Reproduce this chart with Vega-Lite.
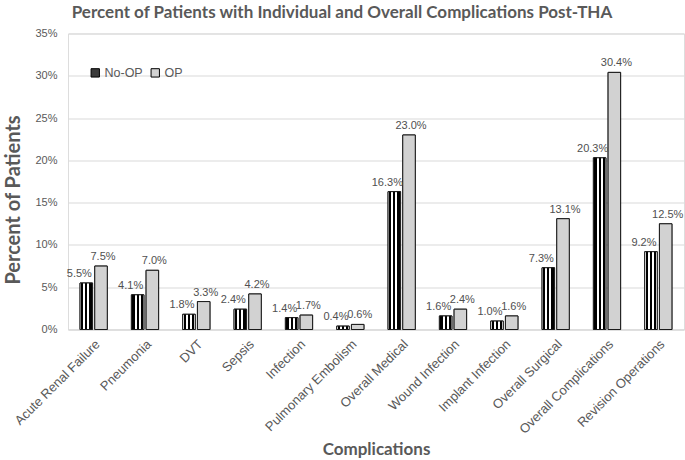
{
  "$schema": "https://vega.github.io/schema/vega-lite/v6.json",
  "width": 616,
  "height": 296,
  "autosize": {"type": "none"},
  "padding": {"left": 68, "top": 33.5, "right": 1, "bottom": 130.5},
  "background": "white",
  "title": {
    "text": "Percent of Patients with Individual and Overall Complications Post-THA",
    "font": "Lato",
    "fontSize": 17,
    "fontWeight": "bold",
    "color": "#595959",
    "anchor": "middle",
    "dx": -34,
    "offset": 6
  },
  "data": {
    "values": [
      {"complication": "Acute Renal Failure", "group": "No-OP", "value": 0.055},
      {"complication": "Acute Renal Failure", "group": "OP", "value": 0.075},
      {"complication": "Pneumonia", "group": "No-OP", "value": 0.041},
      {"complication": "Pneumonia", "group": "OP", "value": 0.070},
      {"complication": "DVT", "group": "No-OP", "value": 0.018},
      {"complication": "DVT", "group": "OP", "value": 0.033},
      {"complication": "Sepsis", "group": "No-OP", "value": 0.024},
      {"complication": "Sepsis", "group": "OP", "value": 0.042},
      {"complication": "Infection", "group": "No-OP", "value": 0.014},
      {"complication": "Infection", "group": "OP", "value": 0.017},
      {"complication": "Pulmonary Embolism", "group": "No-OP", "value": 0.004},
      {"complication": "Pulmonary Embolism", "group": "OP", "value": 0.006},
      {"complication": "Overall Medical", "group": "No-OP", "value": 0.163},
      {"complication": "Overall Medical", "group": "OP", "value": 0.230},
      {"complication": "Wound Infection", "group": "No-OP", "value": 0.016},
      {"complication": "Wound Infection", "group": "OP", "value": 0.024},
      {"complication": "Implant Infection", "group": "No-OP", "value": 0.010},
      {"complication": "Implant Infection", "group": "OP", "value": 0.016},
      {"complication": "Overall Surgical", "group": "No-OP", "value": 0.073},
      {"complication": "Overall Surgical", "group": "OP", "value": 0.131},
      {"complication": "Overall Complications", "group": "No-OP", "value": 0.203},
      {"complication": "Overall Complications", "group": "OP", "value": 0.304},
      {"complication": "Revision Operations", "group": "No-OP", "value": 0.092},
      {"complication": "Revision Operations", "group": "OP", "value": 0.125}
    ]
  },
  "encoding": {
    "x": {
      "field": "complication",
      "type": "nominal",
      "sort": null,
      "scale": {"paddingInner": 0.47, "paddingOuter": 0.235},
      "axis": {
        "title": "Complications",
        "titleFont": "Lato",
        "titleFontSize": 17,
        "titleFontWeight": "bold",
        "titleColor": "#595959",
        "titlePadding": 5,
        "labelAngle": -45,
        "labelAlign": "right",
        "labelBaseline": "top",
        "labelFont": "Liberation Sans, Arial, sans-serif",
        "labelFontSize": 13,
        "labelColor": "#595959",
        "labelPadding": 8,
        "ticks": false,
        "domainColor": "#d9d9d9",
        "grid": false
      }
    },
    "xOffset": {
      "field": "group",
      "type": "nominal",
      "sort": ["No-OP", "OP"],
      "scale": {"paddingInner": 0.15, "paddingOuter": 0}
    },
    "y": {
      "field": "value",
      "type": "quantitative",
      "scale": {"domain": [0, 0.35]},
      "axis": {
        "title": "Percent of Patients",
        "titleFont": "Lato",
        "titleFontSize": 20,
        "titleFontWeight": "bold",
        "titleColor": "#595959",
        "titlePadding": 11,
        "titleY": 166,
        "format": ".0%",
        "values": [0, 0.05, 0.1, 0.15, 0.2, 0.25, 0.3, 0.35],
        "labelFont": "Liberation Sans, Arial, sans-serif",
        "labelFontSize": 11,
        "labelColor": "#595959",
        "labelPadding": 11,
        "ticks": false,
        "domain": false,
        "gridColor": "#d9d9d9",
        "gridWidth": 1
      }
    }
  },
  "layer": [
    {
      "mark": {"type": "bar", "stroke": "#1a1a1a", "strokeWidth": 1},
      "encoding": {
        "fill": {
          "field": "group",
          "type": "nominal",
          "sort": ["No-OP", "OP"],
          "scale": {"domain": ["No-OP", "OP"], "range": ["#3a3a3a", "#d2d2d2"]},
          "legend": {
            "title": null,
            "orient": "none",
            "direction": "horizontal",
            "legendX": 21,
            "legendY": 33,
            "symbolType": "square",
            "symbolSize": 70,
            "symbolStrokeColor": "#000000",
            "symbolStrokeWidth": 1,
            "symbolOpacity": 1,
            "labelFont": "Liberation Sans, Arial, sans-serif",
            "labelFontSize": 12.5,
            "labelColor": "#595959",
            "labelOffset": 3,
            "columnPadding": 6
          }
        }
      }
    },
    {
      "mark": {"type": "bar", "stroke": "#1a1a1a", "strokeWidth": 1},
      "encoding": {
        "fill": {
          "condition": {
            "test": "datum.group === 'No-OP'",
            "value": {
              "gradient": "linear",
              "x1": 0, "y1": 0, "x2": 1, "y2": 0,
              "stops": [
                {"offset": 0, "color": "#ffffff"},
                {"offset": 0.083, "color": "#ffffff"},
                {"offset": 0.083, "color": "#000000"},
                {"offset": 0.25, "color": "#000000"},
                {"offset": 0.25, "color": "#ffffff"},
                {"offset": 0.417, "color": "#ffffff"},
                {"offset": 0.417, "color": "#000000"},
                {"offset": 0.583, "color": "#000000"},
                {"offset": 0.583, "color": "#ffffff"},
                {"offset": 0.75, "color": "#ffffff"},
                {"offset": 0.75, "color": "#000000"},
                {"offset": 0.917, "color": "#000000"},
                {"offset": 0.917, "color": "#ffffff"},
                {"offset": 1, "color": "#ffffff"}
              ]
            }
          },
          "value": "#d2d2d2"
        }
      }
    },
    {
      "transform": [{"filter": "datum.group === 'No-OP'"}],
      "mark": {"type": "text", "baseline": "bottom", "dy": -4, "dx": -7, "font": "Liberation Sans, Arial, sans-serif", "fontSize": 11, "color": "#505050"},
      "encoding": {"text": {"field": "value", "type": "quantitative", "format": ".1%"}}
    },
    {
      "transform": [{"filter": "datum.group === 'OP'"}],
      "mark": {"type": "text", "baseline": "bottom", "dy": -4, "dx": 2, "font": "Liberation Sans, Arial, sans-serif", "fontSize": 11, "color": "#505050"},
      "encoding": {"text": {"field": "value", "type": "quantitative", "format": ".1%"}}
    }
  ]
}
